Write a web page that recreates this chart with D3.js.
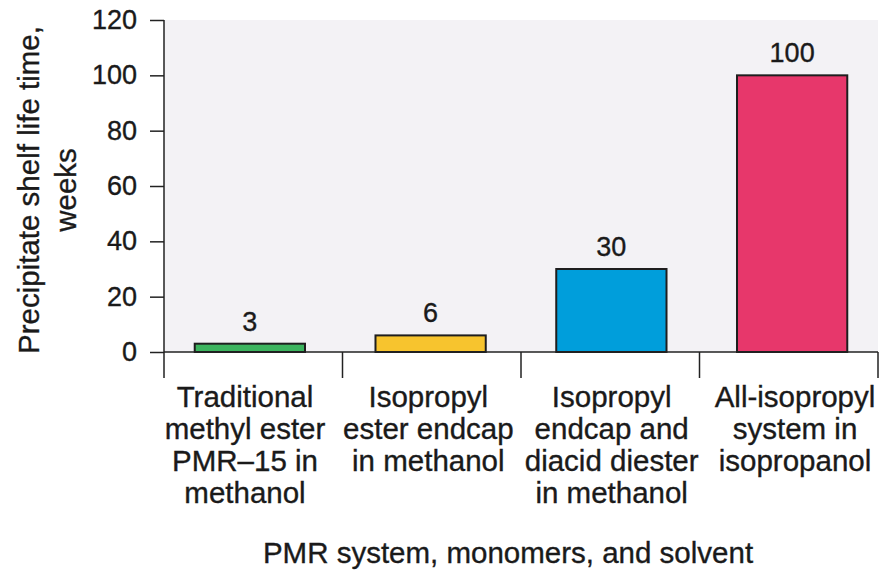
<!DOCTYPE html>
<html><head><meta charset="utf-8">
<script src="https://cdn.jsdelivr.net/npm/d3@7"></script>
<style>body{margin:0;background:#fff}svg{display:block}text{font-family:"Liberation Sans",Arial,sans-serif;fill:#1a1a1a;stroke:#1a1a1a;stroke-width:0.35px}</style>
</head><body>
<script>
const categories = [
  ["Traditional","methyl ester","PMR–15 in","methanol"],
  ["Isopropyl","ester endcap","in methanol"],
  ["Isopropyl","endcap and","diacid diester","in methanol"],
  ["All-isopropyl","system in","isopropanol"]
];
const values = [3, 6, 30, 100];
const colors = ["#3cb45e", "#f7c42e", "#009edb", "#e7376b"];
const yTicks = [0, 20, 40, 60, 80, 100, 120];
const yTitle = ["Precipitate shelf life time,", "weeks"];
const xTitle = "PMR system, monomers, and solvent";

const W = 881, H = 573;
const m = {left:164, right:3, top:20, bottom:221};
const FONT = '"Liberation Sans",Arial,sans-serif';
const svg = d3.select("body").append("svg").attr("width", W).attr("height", H);
const x = d3.scaleBand().domain(d3.range(categories.length)).range([m.left, W - m.right]).paddingInner(0.39).paddingOuter(0.17);
const xSep = d3.scaleBand().domain(d3.range(categories.length)).range([m.left, W - m.right]);
const xLab = d3.scalePoint().domain(d3.range(categories.length)).range([245, 795]);
const y = d3.scaleLinear().domain([0, 120]).range([H - m.bottom, m.top]);

svg.append("rect").attr("x", m.left).attr("y", m.top).attr("width", W - m.right - m.left).attr("height", y(0) - m.top).attr("fill", "#f3f2f5");

// bars
svg.selectAll("rect.bar").data(values).join("rect").attr("class","bar")
  .attr("x", (d,i) => x(i)).attr("width", x.bandwidth())
  .attr("y", d => y(d)).attr("height", d => y(0) - y(d))
  .attr("fill", (d,i) => colors[i]).attr("stroke", "#1e1e1e").attr("stroke-width", 2);

svg.selectAll("text.val").data(values).join("text").attr("class","val")
  .attr("x", (d,i) => x(i) + x.bandwidth()/2).attr("y", d => y(d) - 13)
  .attr("text-anchor","middle").attr("font-size", 27).text(d => d);

// y axis
const yAxis = svg.append("g").attr("transform", `translate(${m.left},0)`)
  .call(d3.axisLeft(y).tickValues(yTicks).tickSize(14).tickPadding(13));
yAxis.select(".domain").remove();
yAxis.selectAll("line").attr("stroke","#222").attr("stroke-width",1.5);
yAxis.selectAll("text").attr("font-size", 27).attr("fill","#1a1a1a").style("font-family", FONT);
svg.append("line").attr("x1", m.left).attr("x2", m.left).attr("y1", m.top).attr("y2", y(0) + 26).attr("stroke","#222").attr("stroke-width",1.5);

// x axis line & separators
svg.append("line").attr("x1", m.left).attr("x2", W - m.right).attr("y1", y(0)).attr("y2", y(0)).attr("stroke","#222").attr("stroke-width",1.5);
const seps = d3.range(1, categories.length + 1).map(i => i < categories.length ? xSep(i) : W - m.right);
svg.selectAll("line.sep").data(seps).join("line").attr("class","sep")
  .attr("x1", d => d).attr("x2", d => d).attr("y1", y(0)).attr("y2", y(0) + 26)
  .attr("stroke","#222").attr("stroke-width",1.5);

// category labels
categories.forEach((lines, i) => {
  const t = svg.append("text").attr("text-anchor","middle").attr("font-size", 29.5);
  lines.forEach((ln, j) => t.append("tspan").attr("x", xLab(i)).attr("y", 407 + j*32).text(ln));
});

svg.append("text").attr("x", 508).attr("y", 563).attr("text-anchor","middle").attr("font-size", 29.5).text(xTitle);

const yt = svg.append("text").attr("transform", `translate(39,190) rotate(-90)`).attr("text-anchor","middle").attr("font-size", 29.5);
yTitle.forEach((ln, j) => yt.append("tspan").attr("x", 0).attr("y", j*37).text(ln));
</script>
</body></html>
